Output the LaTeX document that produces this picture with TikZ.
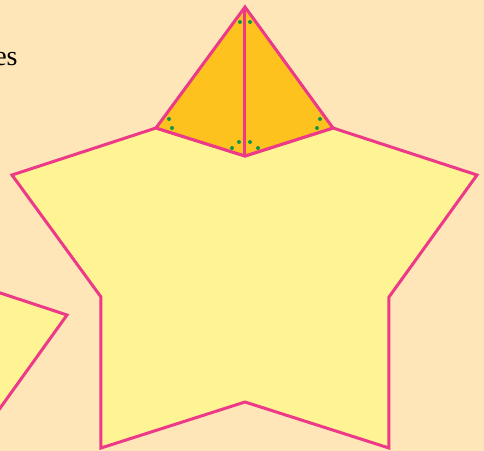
\documentclass[tikz,border=0pt]{standalone}
\usepackage{fontspec}
\setmainfont{Liberation Serif}
\usepackage{tikz}
\definecolor{peach}{RGB}{254,230,185}
\definecolor{staryellow}{RGB}{255,244,148}
\definecolor{tiporange}{RGB}{253,194,30}
\definecolor{edgepink}{RGB}{236,58,136}
\definecolor{dotgreen}{RGB}{20,150,72}

\begin{document}
\begin{tikzpicture}[x=0.5pt, y=-0.5pt,
    piece/.style={draw=edgepink, line width=1.5pt, line join=miter},
    gdot/.style={fill=dotgreen, draw=none}
]
\fill[peach] (0,0) rectangle (484,451);
\useasboundingbox (0,0) rectangle (484,451);
\clip (0,0) rectangle (484,451);
% star corners
\coordinate (top) at (245,7);
\coordinate (nl)  at (156,128);
\coordinate (nr)  at (333,128);
\coordinate (nb)  at (245,156);
\coordinate (wl)  at (12,175);
\coordinate (wr)  at (477,175);
\coordinate (il)  at (101,297);
\coordinate (ir)  at (389,297);
\coordinate (bl)  at (101,448);
\coordinate (br)  at (389,448);
\coordinate (bm)  at (245,402);
% star body and its cut-off tip
\draw[piece, fill=staryellow] (nl) -- (nb) -- (nr) -- (wr) -- (ir) -- (br) -- (bm)
    -- (bl) -- (il) -- (wl) -- cycle;
\draw[piece, fill=tiporange] (top) -- (nr) -- (nb) -- (nl) -- cycle;
\draw[piece] (top) -- (nb);
% neighbour star, only one point shows
\draw[piece, fill=staryellow] (-30,283) -- (67,315) -- (-30,450) -- cycle;
% angle marks
\foreach \p in {(240,22),(250,22),(169,119),(172,128),(232,148),(239,142),
                (250,142),(258,148),(320,119),(317,128)}
  \fill[gdot] \p circle (2);
\node[anchor=base east, font=\fontsize{14}{16}\selectfont, inner sep=0pt] (lbl) at (18,65) {es};
\end{tikzpicture}
\end{document}
